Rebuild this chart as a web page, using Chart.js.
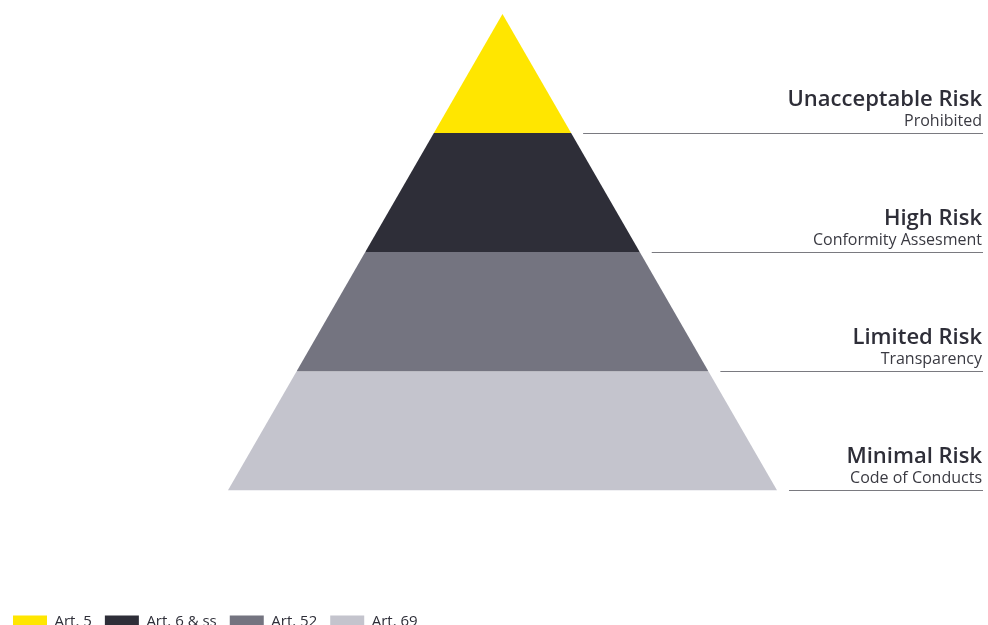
<!DOCTYPE html>
<html>
<head>
<meta charset="utf-8">
<script src="https://cdn.jsdelivr.net/npm/chart.js@4.4.1/dist/chart.umd.min.js"></script>
<style>
  html, body { margin: 0; padding: 0; background: #fff; overflow: hidden; }
  #wrap { width: 988px; height: 639px; position: relative; }
</style>
</head>
<body>
<div id="wrap"><canvas id="chart"></canvas></div>
<script>
// Pyramid layers, top to bottom
const legendLabels = ['Art. 5', 'Art. 6 & ss', 'Art. 52', 'Art. 69'];
const riskTitles = ['Unacceptable Risk', 'High Risk', 'Limited Risk', 'Minimal Risk'];
const riskSubtitles = ['Prohibited', 'Conformity Assesment', 'Transparency', 'Code of Conducts'];
const layerTop = [4, 3, 2, 1];
const layerBottom = [3, 2, 1, 0];
const layerColors = ['#FFE600', '#2E2E38', '#747480', '#C4C4CD'];

const apexLevel = 4;
const baseHalfWidth = 1;
const halfWidth = (level) => (apexLevel - level) / apexLevel * baseHalfWidth;

const datasets = legendLabels.map((label, i) => {
  const t = layerTop[i], b = layerBottom[i];
  return {
    label: label,
    data: [
      { x: -halfWidth(b), y: b },
      { x: -halfWidth(t), y: t },
      { x: halfWidth(t), y: t },
      { x: halfWidth(b), y: b },
    ],
    showLine: true,
    borderWidth: 0,
    borderColor: layerColors[i],
    backgroundColor: layerColors[i],
    pointRadius: 0,
    fill: { value: b },
  };
});

// right-hand labels with rules under them
const riskLabels = {
  id: 'riskLabels',
  afterDatasetsDraw(chart) {
    const { ctx, scales: { x, y } } = chart;
    const right = 983;
    ctx.save();
    riskTitles.forEach((title, i) => {
      const b = layerBottom[i];
      const yPix = Math.round(y.getPixelForValue(b)) + 0.5;
      const xStart = x.getPixelForValue(halfWidth(b)) + 12;
      ctx.strokeStyle = '#7a7a80';
      ctx.lineWidth = 1;
      ctx.beginPath();
      ctx.moveTo(xStart, yPix);
      ctx.lineTo(right, yPix);
      ctx.stroke();

      ctx.textAlign = 'right';
      ctx.textBaseline = 'alphabetic';
      ctx.fillStyle = '#2E2E38';
      ctx.font = '600 22px "Open Sans"';
      ctx.fillText(title, right - 1, yPix - 28);
      ctx.fillStyle = '#3a3a42';
      ctx.font = '16px "Open Sans"';
      ctx.fillText(riskSubtitles[i], right - 1, yPix - 8);
    });
    ctx.restore();
  }
};

new Chart(document.getElementById('chart'), {
  type: 'scatter',
  data: { datasets },
  options: {
    responsive: true,
    maintainAspectRatio: false,
    animation: false,
    layout: { padding: { top: 14, left: 0, right: 0, bottom: 0 } },
    scales: {
      x: { display: false, min: -1.8306, max: 1.7687 },
      y: { display: false, min: -0.931, max: 4 },
    },
    plugins: {
      tooltip: { enabled: false },
      legend: {
        position: 'bottom',
        align: 'start',
        labels: {
          boxWidth: 34,
          boxHeight: 12,
          padding: 13,
          color: '#2E2E38',
          font: { family: 'Open Sans', size: 15 },
        },
      },
    },
  },
  plugins: [riskLabels],
});
</script>
</body>
</html>
